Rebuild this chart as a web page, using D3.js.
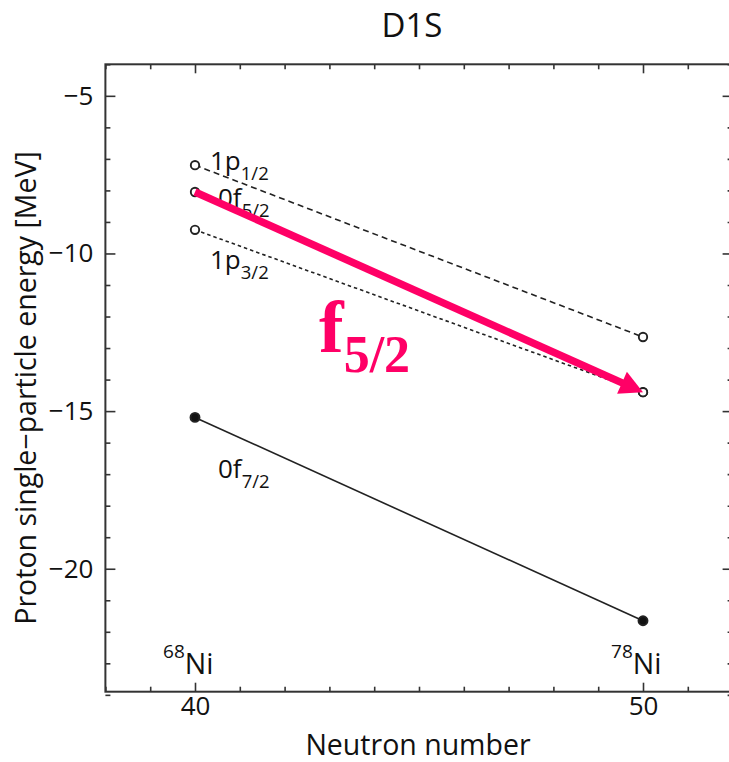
<!DOCTYPE html>
<html>
<head>
<meta charset="utf-8">
<script src="https://cdn.jsdelivr.net/npm/d3@7"></script>
<style>
  body { margin: 0; background: #fff; }
  svg { display: block; }
  text { font-family: "Open Sans", "DejaVu Sans", sans-serif; fill: #111; }
</style>
</head>
<body>
<svg id="chart" width="729" height="762"></svg>
<script>
// Proton single-particle energies (MeV) for Ni isotopes, D1S interaction
const neutronNumbers = [40, 50];
const nucleusMass = [68, 78];
const nucleusSymbol = "Ni";
const levelOrbit = ["1p", "0f", "1p", "0f"];
const levelJ = ["1/2", "5/2", "3/2", "7/2"];
const energyN40 = [-7.2, -8.05, -9.25, -15.2];
const energyN50 = [-12.65, -14.4, -14.4, -21.65];
const yTickValues = [-5, -10, -15, -20];
const xTickValues = [40, 50];
const highlightLevel = 1; // 0f5/2 shift drawn as arrow

// drawing styles per level
const levelDash = ["6,4", "5,3", "3.5,3", null];
const levelFilled = [false, false, false, true];
const labelDx = [15, 23, 15, 23];
const labelDy = [5, 15, 39, 61];

const svg = d3.select("#chart");
const x = d3.scaleLinear().domain([38, 52]).range([105.4, 732.6]);
const y = d3.scaleLinear().domain([-23.9, -4]).range([691.7, 64.3]);

const axisColor = "#333";
const [x0, x1] = x.range();
const [yb, yt] = y.range();

// frame
svg.append("rect")
  .attr("x", x0).attr("y", yt)
  .attr("width", x1 - x0).attr("height", yb - yt)
  .attr("fill", "none").attr("stroke", axisColor).attr("stroke-width", 2);

const xMinor = d3.range(38, 53, 1).filter(v => !xTickValues.includes(v));
const yMinor = d3.range(-24, -3, 1).filter(v => !yTickValues.includes(v));

function styleAxis(g) {
  g.select(".domain").remove();
  g.selectAll("line").attr("stroke", axisColor).attr("stroke-width", 1.6);
  g.selectAll("text").attr("font-size", 26).attr("font-family", "Open Sans, sans-serif").attr("fill", "#111");
}

// left axis
svg.append("g").attr("transform", `translate(${x0},0)`)
  .call(d3.axisLeft(y).tickValues(yTickValues).tickSizeInner(-10).tickSizeOuter(0).tickPadding(12))
  .call(styleAxis);
svg.append("g").attr("transform", `translate(${x0},0)`)
  .call(d3.axisLeft(y).tickValues(yMinor).tickSizeInner(-5).tickSizeOuter(0).tickFormat(""))
  .call(styleAxis);
// right axis
svg.append("g").attr("transform", `translate(${x1},0)`)
  .call(d3.axisRight(y).tickValues(yTickValues).tickSizeInner(-10).tickSizeOuter(0).tickFormat(""))
  .call(styleAxis);
svg.append("g").attr("transform", `translate(${x1},0)`)
  .call(d3.axisRight(y).tickValues(yMinor).tickSizeInner(-5).tickSizeOuter(0).tickFormat(""))
  .call(styleAxis);
// bottom axis
svg.append("g").attr("transform", `translate(0,${yb})`)
  .call(d3.axisBottom(x).tickValues(xTickValues).tickSizeInner(-9).tickSizeOuter(0).tickPadding(5).tickFormat(d3.format("d")))
  .call(styleAxis);
svg.append("g").attr("transform", `translate(0,${yb})`)
  .call(d3.axisBottom(x).tickValues(xMinor).tickSizeInner(-5).tickSizeOuter(0).tickFormat(""))
  .call(styleAxis);
// top axis
svg.append("g").attr("transform", `translate(0,${yt})`)
  .call(d3.axisTop(x).tickValues(xTickValues).tickSizeInner(-9).tickSizeOuter(0).tickFormat(""))
  .call(styleAxis);
svg.append("g").attr("transform", `translate(0,${yt})`)
  .call(d3.axisTop(x).tickValues(xMinor).tickSizeInner(-5).tickSizeOuter(0).tickFormat(""))
  .call(styleAxis);

// titles
svg.append("text").attr("x", 412).attr("y", 37).attr("text-anchor", "middle")
  .attr("font-size", 33).text("D1S");
svg.append("text").attr("x", 418).attr("y", 755).attr("text-anchor", "middle")
  .attr("font-size", 28.5).text("Neutron number");
svg.append("text")
  .attr("transform", "translate(36,388) rotate(-90)")
  .attr("text-anchor", "middle").attr("font-size", 28.5)
  .text("Proton single\u2212particle energy [MeV]");

// level lines
const levels = levelOrbit.map((o, i) => ({
  i, orbit: o, j: levelJ[i],
  pts: [[neutronNumbers[0], energyN40[i]], [neutronNumbers[1], energyN50[i]]]
}));

const line = d3.line().x(d => x(d[0])).y(d => y(d[1]));
svg.append("g").selectAll("path").data(levels).join("path")
  .attr("d", d => line(d.pts))
  .attr("fill", "none").attr("stroke", "#222").attr("stroke-width", 1.6)
  .attr("stroke-dasharray", d => levelDash[d.i]);

svg.append("g").selectAll("circle")
  .data(levels.flatMap(d => d.pts.map(p => ({ p, filled: levelFilled[d.i] }))))
  .join("circle")
  .attr("cx", d => x(d.p[0])).attr("cy", d => y(d.p[1]))
  .attr("r", d => d.filled ? 4.5 : 4.2)
  .attr("fill", d => d.filled ? "#111" : "#fff")
  .attr("stroke", "#222").attr("stroke-width", 1.9);

// level labels
const lbl = svg.append("g").selectAll("text").data(levels).join("text")
  .attr("x", d => x(neutronNumbers[0]) + labelDx[d.i])
  .attr("y", d => y(energyN40[d.i]) + labelDy[d.i])
  .attr("font-size", 26);
lbl.append("tspan").text(d => d.orbit);
lbl.append("tspan").attr("dy", 10).attr("font-size", 18.5).text(d => d.j);

// nucleus labels
const nuc = svg.append("g").selectAll("text").data(neutronNumbers).join("text")
  .attr("x", d => x(d) + 18.5).attr("y", 674).attr("text-anchor", "end")
  .attr("font-size", 28.5);
nuc.append("tspan").attr("font-size", 19).attr("dy", -16).text((d, i) => nucleusMass[i]);
nuc.append("tspan").attr("dy", 16).text(nucleusSymbol);

// highlighted shift of the 0f5/2 level
const pink = "#ff0066";
const ax0 = x(neutronNumbers[0]), ay0 = y(energyN40[highlightLevel]);
const ax1 = x(neutronNumbers[1]), ay1 = y(energyN50[highlightLevel]);
const ang = Math.atan2(ay1 - ay0, ax1 - ax0);
const headLen = 23, headHalf = 12;
const bx = ax1 - headLen * Math.cos(ang), by = ay1 - headLen * Math.sin(ang);
svg.append("line")
  .attr("x1", ax0).attr("y1", ay0).attr("x2", bx + 2 * Math.cos(ang)).attr("y2", by + 2 * Math.sin(ang))
  .attr("stroke", pink).attr("stroke-width", 7.5);
svg.append("path")
  .attr("d", `M${ax1},${ay1}L${bx - headHalf * Math.sin(ang)},${by + headHalf * Math.cos(ang)}L${bx + headHalf * Math.sin(ang)},${by - headHalf * Math.cos(ang)}Z`)
  .attr("fill", pink);

const fl = svg.append("text").attr("x", 319).attr("y", 352)
  .style("font-family", "'Liberation Serif', 'DejaVu Serif', serif")
  .style("font-weight", "bold").style("fill", pink).attr("font-size", 74);
fl.append("tspan").text("f");
fl.append("tspan").attr("dy", 20).attr("font-size", 52).text(levelJ[highlightLevel]);
</script>
</body>
</html>
